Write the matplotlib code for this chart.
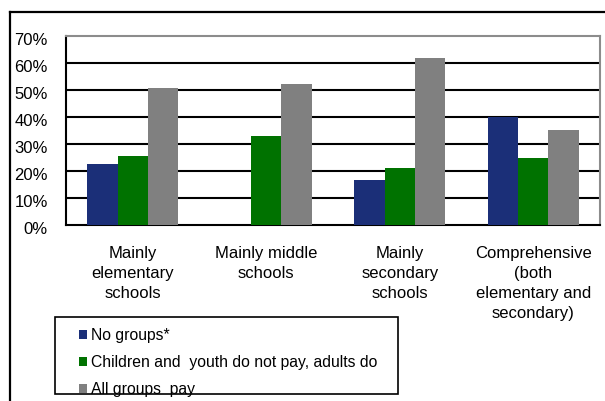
import matplotlib
matplotlib.use("Agg")
import matplotlib.pyplot as plt
import numpy as np
from matplotlib.patches import Patch, Rectangle
from matplotlib.lines import Line2D
from matplotlib.transforms import ScaledTranslation

plt.rcParams['font.family'] = ['Liberation Sans', 'DejaVu Sans']

categories = [
    "Mainly\nelementary\nschools",
    "Mainly middle\nschools",
    "Mainly\nsecondary\nschools",
    "Comprehensive\n(both\nelementary and\nsecondary)",
]
series_names = [
    "No groups*",
    "Children and  youth do not pay, adults do",
    "All groups  pay",
]
no_groups = [22.6, 0.0, 16.7, 39.9]
children_free = [25.6, 33.0, 21.1, 24.8]
all_pay = [50.6, 52.2, 61.9, 35.2]
y_ticks = [0, 10, 20, 30, 40, 50, 60, 70]
y_tick_labels = ["0%", "10%", "20%", "30%", "40%", "50%", "60%", "70%"]

colors = ["#1b2f78", "#007200", "#808080"]

W, H = 605, 401
FS = 12
fig = plt.figure(figsize=(W / 100, H / 100), dpi=100)
ax = fig.add_axes([66 / W, 1 - 225 / H, (600 - 66) / W, (225 - 36) / H])

x = np.arange(len(categories))
bw = 0.227
for i, (vals, c) in enumerate(zip([no_groups, children_free, all_pay], colors)):
    ax.bar(x + (i - 1) * bw, vals, width=bw, color=c, zorder=3, linewidth=0)

ax.set_xlim(-0.5, len(categories) - 0.5)
ax.set_ylim(0, 70)
ax.set_yticks(y_ticks)
ax.set_yticklabels(y_tick_labels, fontsize=FS)
ax.set_xticks(x)
ax.set_xticklabels(categories, fontsize=FS, linespacing=1.42)
ax.tick_params(axis='y', length=0, pad=13)
ax.tick_params(axis='x', length=0, pad=15)
shift = ScaledTranslation(0, -3 / 100, fig.dpi_scale_trans)
for lab in ax.get_yticklabels():
    lab.set_transform(lab.get_transform() + shift)
for yv in y_ticks[1:-1]:
    ax.axhline(yv, color='black', lw=1.5, zorder=1)

ax.spines['left'].set_color('black')
ax.spines['bottom'].set_color('black')
ax.spines['left'].set_linewidth(1.5)
ax.spines['bottom'].set_linewidth(1.5)
ax.spines['top'].set_color('#8c8c8c')
ax.spines['right'].set_color('#8c8c8c')
ax.spines['top'].set_linewidth(1.5)
ax.spines['right'].set_linewidth(1.5)

# outer frame (top and left edges)
fig.add_artist(Line2D([10 / W, 1.0], [1 - 12 / H, 1 - 12 / H], color='black', lw=1.6,
                      transform=fig.transFigure))
fig.add_artist(Line2D([10 / W, 10 / W], [1 - 12 / H, 0], color='black', lw=1.6,
                      transform=fig.transFigure))

# legend box
fig.add_artist(Rectangle((55 / W, 1 - 394 / H), (398 - 55) / W, (394 - 317) / H,
                         transform=fig.transFigure, fill=False, edgecolor='black', lw=1.2))
handles = [Patch(facecolor=c, edgecolor='none') for c in colors]
leg = fig.legend(handles, series_names, loc='upper left',
                 bbox_to_anchor=(79 / W, 1 - 328 / H), frameon=False,
                 fontsize=11.3, handlelength=0.5, handleheight=0.5,
                 handletextpad=0.25, labelspacing=0.78, borderpad=0, borderaxespad=0)

fig.savefig("out.png", dpi=100)
